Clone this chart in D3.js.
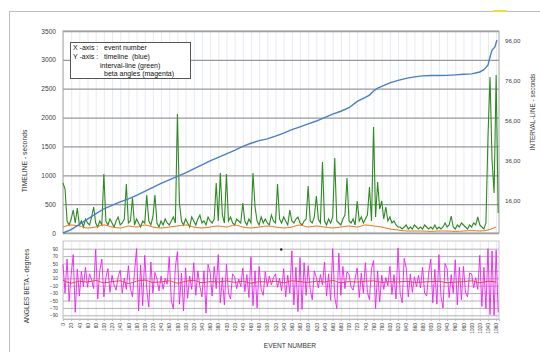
<!DOCTYPE html>
<html>
<head>
<meta charset="utf-8">
<script src="https://cdn.jsdelivr.net/npm/d3@7"></script>
<style>
  body { margin: 0; background: #fff; }
  svg { display: block; font-family: "Liberation Sans", Arial, sans-serif; }
</style>
</head>
<body>
<div id="chart"></div>
<script>
// ---- data ----
// x tick labels (event number)
const eventTicks = d3.range(0, 1061, 20);
const timeTicks = [0, 500, 1000, 1500, 2000, 2500, 3000, 3500];
const intervalTicks = [16, 36, 56, 76, 96];
const betaTicks = [90, 70, 50, 30, 10, -10, -30, -50, -70, -90];

// timeline (blue) : [event, seconds]
const timeline = [
  [0, 0], [20, 60], [40, 150], [60, 240], [80, 330], [100, 420], [120, 480], [140, 540],
  [160, 590], [180, 650], [200, 720], [220, 790], [240, 860], [260, 920], [280, 980],
  [300, 1040], [320, 1110], [340, 1180], [360, 1250], [380, 1310], [400, 1370], [420, 1430],
  [440, 1500], [460, 1555], [480, 1600], [500, 1630], [520, 1680], [540, 1730], [560, 1790],
  [580, 1840], [600, 1890], [620, 1940], [640, 2000], [660, 2060], [680, 2110], [700, 2170],
  [720, 2280], [740, 2350], [750, 2390], [760, 2460], [770, 2510], [780, 2540], [800, 2600],
  [820, 2645], [840, 2680], [860, 2705], [880, 2722], [900, 2728], [920, 2730], [940, 2732],
  [960, 2740], [980, 2750], [1000, 2758], [1020, 2790], [1030, 2830], [1035, 2870],
  [1040, 2910], [1045, 3050], [1050, 3170], [1057, 3225], [1062, 3345]
];

// interval-line (green), one value every 5 events, right axis seconds
const intervals = [
  25, 22, 6, 4, 7, 11.5, 5, 12.5, 4, 6,
  3, 7, 5, 4, 8, 13, 5, 3, 6, 4,
  29.5, 6, 4, 7, 5, 3, 6, 8, 4, 5,
  7, 24.5, 5, 6, 17.5, 4, 7, 5, 3, 6,
  5, 19, 6, 4, 8, 19, 5, 3, 6, 4,
  7, 5, 4, 6, 8, 5, 59.5, 15, 6, 4,
  7, 5, 3, 8, 6, 4, 7, 9, 5, 6,
  4, 8, 6, 5, 7, 25, 6, 30, 9, 5,
  29.5, 6, 8, 5, 4, 7, 6, 5, 15, 6,
  4, 7, 5, 30, 13, 6, 4, 8, 5, 7,
  5, 4, 9, 6, 5, 24.5, 7, 5, 8, 6,
  4, 11.5, 6, 5, 7, 8, 5, 4, 6, 7,
  23.5, 6, 5, 8, 18.5, 7, 5, 35.5, 6, 4,
  7, 5, 8, 37.5, 6, 5, 4, 7, 9, 27.5,
  6, 5, 7, 4, 16, 6, 8, 5, 7, 9,
  23, 6, 53, 8, 25.5, 12, 16, 7, 13, 6,
  8, 5, 6, 4, 3, 3, 2, 3, 4, 2,
  3, 2, 4, 3, 2, 3, 2, 4, 3, 2,
  3, 2, 4, 2, 3, 2, 3, 5, 3, 4,
  8.5, 3, 2, 4, 3, 5, 4, 3, 2, 4,
  3, 5, 4, 8, 4, 3, 2, 5, 48, 78,
  36.5, 20, 79, 10
];

// smoothed interval (orange), one value every 20 events
const intervalAvg = [
  3, 4, 3.5, 2.5, 3, 4, 3, 2.5, 3.5, 3, 4, 3, 2.5, 3, 3.5, 4, 3, 2.5, 3, 3.5,
  3, 4, 3, 2.5, 3, 3.5, 3, 2.5, 3, 4, 3, 3.5, 3, 2.5, 3, 3.5, 3, 4, 3.5, 3,
  2, 1.5, 1, 1, 1, 0.8, 1, 1, 0.8, 1, 1.2, 1, 1.5, 3
];

// beta angles (magenta), one value every 5 events, degrees
const betaAngles = [
  48, -30, 62, -52, 20, 74, -82, 35, -38, 28, -12, 40, -14, 22, 6, -18,
  88, -46, 30, 62, -40, 12, 36, -28, 18, -8, -22, 14, 32, -30, 10, -20,
  44, -18, -40, 26, 90, -78, 46, -64, 72, -20, -68, 54, -30, 26, 8, -24,
  16, -20, 10, -6, 68, -50, -72, 40, 82, -60, 24, -78, 38, -44, 16, -20,
  52, -36, 30, -12, -40, 30, -84, 48, 26, -38, 42, -18, 74, -56, 12, -62,
  48, -30, -46, 22, 14, -18, 8, -12, 38, -26, 20, -42, 68, -64, 30, -70,
  42, -20, -36, 28, -12, 16, -8, 12, 22, -14, 10, -24, 36, -40, 18, -30,
  84, -62, 40, -80, 66, -74, 52, -36, 44, -20, -48, 30, 12, -16, 20, -8,
  54, -38, 22, -50, 90, -40, -72, 78, -36, 42, -18, 28, 20, -14, -22, 10,
  38, -42, 24, -30, 52, -28, -48, 36, 58, -72, 30, -54, 18, -20, 12, -10,
  42, -34, 20, -46, 92, -30, -56, 64, 38, -40, 22, -28, 14, -12, 18, -16,
  40, -30, -38, 26, 62, -56, 34, -60, 74, -40, -70, 50, 36, -42, 20, -30,
  60, -62, 40, -48, 42, -28, -40, 24, 22, -16, 12, -20, 72, -66, 40, -72,
  90, -88, 84, -90, 86, -82
];

// smoothed beta (red), one value every 20 events
const betaAvg = [
  5, -3, 2, 0, 4, -2, 1, 3, -4, 2, 5, -1, 0, 3, -3, 2, 4, -2, 1, 0,
  3, -1, 2, -3, 1, 0, 2, -2, 3, 1, -1, 2, 0, 4, -2, 1, 0, 2, 3, -1,
  1, 0, 2, -1, 0, 1, 2, -2, 0, 1, 3, -2, 2, 0
];

// lone black marker in the lower panel [event, degrees]
const strayPoint = [534, 88];

// ---- drawing ----
const W = 540, H = 352;
const svg = d3.select('#chart').append('svg').attr('width', W).attr('height', H);

const pTop = { l: 63, r: 499, t: 31, b: 233 };
const pLow = { l: 63, r: 499, t: 241, b: 319 };

const x = d3.scaleLinear().domain([0, 1067]).range([pTop.l, pTop.r]);
const yTime = d3.scaleLinear().domain([0, 3500]).range([pTop.b, pTop.t]);
const yInt = d3.scaleLinear().domain([0, 101]).range([pTop.b, pTop.t]);
const yBeta = d3.scaleLinear().domain([-100, 100]).range([pLow.b, 245]);

// outer frame
svg.append('rect')
  .attr('x', 9.5).attr('y', 11.5).attr('width', 620).attr('height', 400)
  .attr('fill', 'none').attr('stroke', '#bdbdbd').attr('stroke-width', 1);
svg.append('line')
  .attr('x1', 493).attr('x2', 507).attr('y1', 11).attr('y2', 11)
  .attr('stroke', '#f2dd3a').attr('stroke-width', 2);

// vertical light gridlines in both panels
[pTop, pLow].forEach(p => {
  svg.append('g')
    .attr('transform', `translate(0,${p.b})`)
    .call(d3.axisBottom(x).tickValues(eventTicks).tickSize(-(p.b - p.t)).tickFormat(''))
    .call(g => g.select('.domain').remove())
    .selectAll('line').attr('stroke', '#dfe5ee').attr('stroke-width', 0.8);
});

// horizontal gridlines upper
svg.append('g')
  .attr('transform', `translate(${pTop.l},0)`)
  .call(d3.axisLeft(yTime).tickValues(timeTicks).tickSize(-(pTop.r - pTop.l)).tickFormat(''))
  .call(g => g.select('.domain').remove())
  .selectAll('line').attr('stroke', '#999').attr('stroke-width', 1.3);

// horizontal gridlines lower
svg.append('g')
  .attr('transform', `translate(${pLow.l},0)`)
  .call(d3.axisLeft(yBeta).tickValues(betaTicks).tickSize(-(pLow.r - pLow.l)).tickFormat(''))
  .call(g => g.select('.domain').remove())
  .selectAll('line').attr('stroke', '#a0a0a0').attr('stroke-width', 0.8);

// plot area borders
svg.append('rect')
  .attr('x', pTop.l).attr('y', pTop.t).attr('width', pTop.r - pTop.l).attr('height', pTop.b - pTop.t)
  .attr('fill', 'none').attr('stroke', '#a6a6a6').attr('stroke-width', 1);
svg.append('rect')
  .attr('x', pLow.l).attr('y', pLow.t).attr('width', pLow.r - pLow.l).attr('height', pLow.b - pLow.t)
  .attr('fill', 'none').attr('stroke', '#c8c8c8').attr('stroke-width', 1);

// series
const lineEvery = (step, scale) => d3.line().x((d, i) => x(i * step)).y(d => scale(d));

svg.append('path').datum(intervals)
  .attr('fill', 'none').attr('stroke', '#2f8a24').attr('stroke-width', 1.1)
  .attr('d', lineEvery(5, yInt));

svg.append('path').datum(intervalAvg)
  .attr('fill', 'none').attr('stroke', '#e8731c').attr('stroke-width', 1)
  .attr('d', d3.line().curve(d3.curveMonotoneX).x((d, i) => x(i * 20)).y(d => yInt(d)));

svg.append('path').datum(timeline)
  .attr('fill', 'none').attr('stroke', '#4a7fc4').attr('stroke-width', 1.4)
  .attr('d', d3.line().x(d => x(d[0])).y(d => yTime(d[1])));

svg.append('path').datum(betaAngles)
  .attr('fill', 'none').attr('stroke', '#f21ef2').attr('stroke-width', 0.9)
  .attr('d', lineEvery(5, yBeta));

svg.append('path').datum(betaAvg)
  .attr('fill', 'none').attr('stroke', '#e8403c').attr('stroke-width', 1)
  .attr('d', d3.line().curve(d3.curveMonotoneX).x((d, i) => x(i * 20)).y(d => yBeta(d)));

svg.append('circle')
  .attr('cx', x(strayPoint[0])).attr('cy', yBeta(strayPoint[1])).attr('r', 1.2).attr('fill', '#222');

// axes labels
const tickText = (sel, size) => sel.selectAll('text').style('font-size', size + 'px').attr('fill', '#404040');

svg.append('g')
  .attr('transform', `translate(${pTop.l - 4},0)`)
  .call(d3.axisLeft(yTime).tickValues(timeTicks).tickSize(0).tickPadding(3).tickFormat(d3.format('d')))
  .call(g => g.select('.domain').remove())
  .call(g => tickText(g, 6.6));

svg.append('g')
  .attr('transform', `translate(${pTop.r + 3},0)`)
  .call(d3.axisRight(yInt).tickValues(intervalTicks).tickSize(0).tickPadding(3)
    .tickFormat(d => d3.format('.2f')(d).replace('.', ',')))
  .call(g => g.select('.domain').remove())
  .call(g => tickText(g, 6.2));

svg.append('g')
  .attr('transform', `translate(${pLow.l - 3},0)`)
  .call(d3.axisLeft(yBeta).tickValues(betaTicks).tickSize(0).tickPadding(2).tickFormat(d3.format('d')))
  .call(g => g.select('.domain').remove())
  .call(g => tickText(g, 4.8));

svg.append('g')
  .attr('transform', `translate(0,${pLow.b})`)
  .call(d3.axisBottom(x).tickValues(eventTicks).tickSize(2).tickFormat(d3.format('d')))
  .call(g => g.select('.domain').attr('stroke', '#bbb'))
  .call(g => g.selectAll('line').attr('stroke', '#bbb'))
  .call(g => g.selectAll('text')
    .style('font-size', '4.8px').attr('fill', '#404040')
    .attr('text-anchor', 'end').attr('dy', '0.35em')
    .attr('transform', 'translate(0,4) rotate(-90)').attr('x', 0).attr('y', 0));

// titles
const title = (txt, tx, ty, rot, size) => svg.append('text')
  .attr('transform', `translate(${tx},${ty}) rotate(${rot})`)
  .attr('text-anchor', 'middle').attr('dominant-baseline', 'middle')
  .style('font-size', size + 'px').attr('fill', '#333').text(txt);

title('TIMELINE - seconds', 25, 161, -90, 6.8);
title('INTERVAL-LINE - seconds', 533, 112, -90, 6.4);
title('ANGLES BETA - degrees', 27, 286, -90, 6.6);
title('EVENT NUMBER', 290, 346, 0, 6.6);

// legend box
const legend = svg.append('g');
legend.append('rect')
  .attr('x', 70.5).attr('y', 42.5).attr('width', 120).attr('height', 36)
  .attr('fill', '#fff').attr('stroke', '#555').attr('stroke-width', 1);
const legendRows = [
  ['X -axis :', 'event number', 104, 48],
  ['Y -axis :', 'timeline  (blue)', 104, 57],
  ['', 'interval-line (green)', 100, 66.5],
  ['', 'beta angles (magenta)', 104, 74.5]
];
legendRows.forEach(r => {
  if (r[0]) legend.append('text').attr('x', 73).attr('y', r[3]).attr('dominant-baseline', 'middle')
    .style('font-size', '7px').attr('fill', '#111').text(r[0]);
  legend.append('text').attr('x', r[2]).attr('y', r[3]).attr('dominant-baseline', 'middle')
    .style('font-size', '7px').attr('fill', '#111').attr('xml:space', 'preserve').text(r[1]);
});
</script>
</body>
</html>
